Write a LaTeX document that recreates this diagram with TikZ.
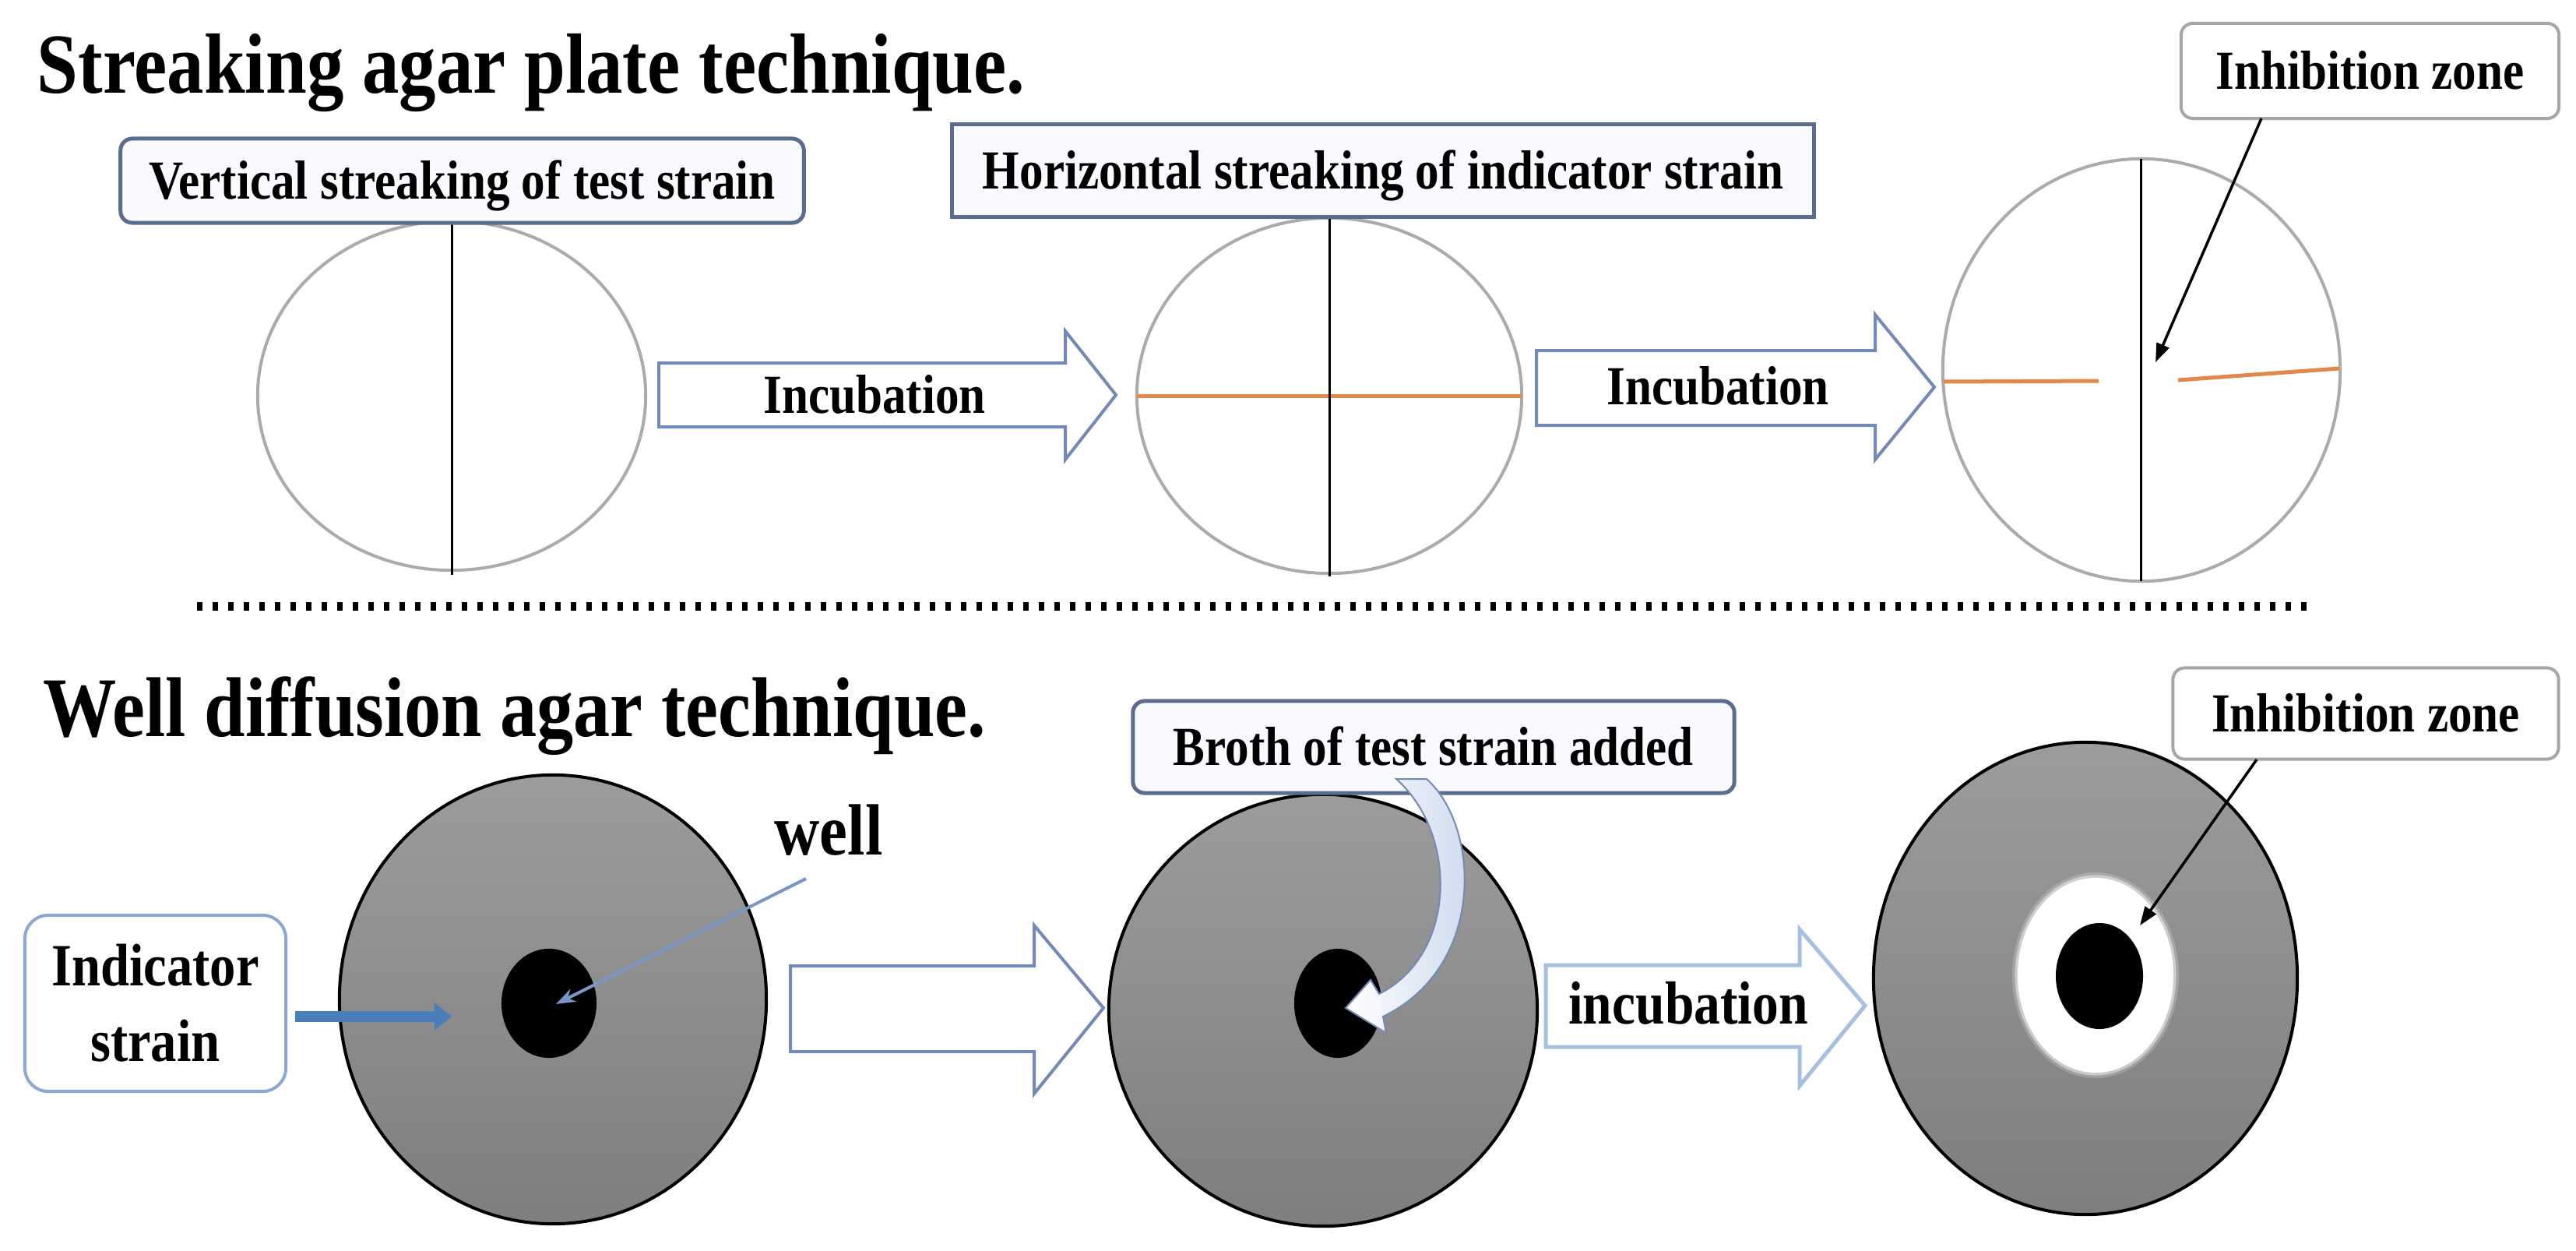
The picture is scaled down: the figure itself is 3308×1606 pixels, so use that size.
\documentclass[tikz,border=0pt]{standalone}
\usepackage{fontspec}
\setmainfont{Liberation Serif}[FakeStretch=0.865]
\usetikzlibrary{arrows.meta}
\definecolor{boxblue}{HTML}{5A6D8F}
\definecolor{boxfill}{HTML}{F8FAFE}
\definecolor{arrblue}{HTML}{7389B8}
\definecolor{arrlight}{HTML}{A5C0E0}
\definecolor{platerim}{HTML}{ABABAB}
\definecolor{streak}{HTML}{E3884D}
\definecolor{platetop}{HTML}{9C9C9C}
\definecolor{platebot}{HTML}{7E7E7E}
\definecolor{indblue}{HTML}{4A7EBB}
\definecolor{pointblue}{HTML}{7A96C4}
\definecolor{zonegray}{HTML}{A6A6A6}
\definecolor{indbox}{HTML}{8AA8D4}
\definecolor{brothfill}{HTML}{C9D6EC}
\begin{document}
\begin{tikzpicture}[x=0.01cm,y=-0.01cm,
  title/.style={font=\bfseries\fontsize{31.2pt}{36pt}\selectfont, inner sep=0pt, anchor=base west},
  lbl/.style={font=\bfseries\fontsize{20.1pt}{24pt}\selectfont, inner sep=0pt},
  labelbox/.style={lbl, draw=boxblue, line width=0.05cm, fill=boxfill, rounded corners=0.15cm,
                   text height=0.465cm, text depth=0pt, inner sep=0pt},
  zonebox/.style={labelbox, draw=zonegray, line width=0.04cm, fill=white},
  emptyplate/.style={draw=platerim, line width=0.04cm},
  agar/.style={draw=black, line width=0.04cm, top color=platetop, bottom color=platebot},
  blockarrow/.style={draw=arrblue, line width=0.04cm, fill=white, line join=miter},
  streakline/.style={draw=streak, line width=0.05cm},
  pointer/.style={draw=black, line width=0.035cm, -{Triangle[length=0.24cm, width=0.17cm]}},
  wellwell/.style={fill=black}
]
\useasboundingbox (0,0) rectangle (3308,1606);
\fill[white] (0,0) rectangle (3308,1606);

% ---------- titles
\node[title] (t1) at (47,120) {Streaking agar plate technique.};
\node[title, font=\bfseries\fontsize{31.0pt}{36pt}\selectfont] (t2) at (55,945) {Well diffusion agar technique.};

% ---------- top row plates
\draw[emptyplate] (580,508) ellipse [x radius=2.49cm, y radius=2.24cm];
\coordinate (p1top) at (580,286); \coordinate (p1bot) at (580,738);
\draw[line width=0.03cm] (p1top) -- (p1bot);

\draw[emptyplate] (1707,508) ellipse [x radius=2.47cm, y radius=2.28cm];
\coordinate (p2l) at (1460,508); \coordinate (p2r) at (1954,508);
\draw[streakline] (p2l) -- (p2r);
\coordinate (p2top) at (1707,278); \coordinate (p2bot) at (1707,740);
\draw[line width=0.03cm] (p2top) -- (p2bot);

\draw[emptyplate] (2750,475) ellipse [x radius=2.55cm, y radius=2.71cm];
\coordinate (p3top) at (2749,204); \coordinate (p3bot) at (2749,746);
\draw[line width=0.03cm] (p3top) -- (p3bot);
\coordinate (s1a) at (2496,490); \coordinate (s1b) at (2695,489);
\coordinate (s2a) at (2797,488); \coordinate (s2b) at (3004,473);
\draw[streakline] (s1a) -- (s1b);
\draw[streakline] (s2a) -- (s2b);

% ---------- top row block arrows
\draw[blockarrow] (846,466) -- (1368,466) -- (1368,425) -- (1433,507) -- (1368,590) -- (1368,548) -- (846,548) -- cycle;
\node[lbl, anchor=base] (inc1) at (1123,530) {Incubation};
\draw[blockarrow] (1973,450) -- (2408,450) -- (2408,404) -- (2484,497) -- (2408,590) -- (2408,546) -- (1973,546) -- cycle;
\node[lbl, anchor=base] (inc2) at (2206,519) {Incubation};

% ---------- top row label boxes
\node[labelbox, minimum width=8.77cm, minimum height=1.08cm] (vbox) at (593.5,232) {Vertical streaking of test strain};
\node[labelbox, rounded corners=0pt, minimum width=11.06cm, minimum height=1.18cm] (hbox) at (1776,219) {Horizontal streaking of indicator strain};
\node[zonebox, minimum width=4.85cm, minimum height=1.22cm] (zone1) at (3043.5,91) {Inhibition zone};
\coordinate (zone1from) at (2904,152);
\coordinate (zone1tip) at (2768,465);
\draw[pointer] (zone1from) -- (zone1tip);

% ---------- separator
\coordinate (sepL) at (253,778); \coordinate (sepR) at (2964,778);
\draw[line width=0.11cm, dash pattern=on 0.07cm off 0.13cm] (sepL) -- (sepR);

% ---------- bottom row: plate 1
\draw[agar] (710,1283) ellipse [x radius=2.74cm, y radius=2.88cm];
\fill[wellwell] (705,1288) ellipse [x radius=0.61cm, y radius=0.70cm];
\node[font=\bfseries\fontsize{26.5pt}{30pt}\selectfont, inner sep=0pt, anchor=base] (welllbl) at (1064,1097) {well};
\coordinate (wellfrom) at (1035,1128); \coordinate (wellto) at (714,1289);
\draw[draw=pointblue, line width=0.04cm, -{Stealth[length=0.25cm,width=0.18cm]}] (wellfrom) -- (wellto);

\node[draw=indbox, line width=0.04cm, rounded corners=0.3cm, fill=white,
      minimum width=3.35cm, minimum height=2.26cm, align=center, inner sep=0pt,
      font=\bfseries\fontsize{21.9pt}{27.6pt}\selectfont] (ind) at (199.5,1288) {Indicator\\strain};
\coordinate (indto) at (580,1305);
\draw[indblue, line width=0.14cm, -{Triangle[length=0.22cm,width=0.34cm]}] ([xshift=0.1cm]ind.east |- indto) -- (indto);

% block arrow (empty)
\draw[blockarrow] (1015,1240) -- (1328,1240) -- (1328,1188) -- (1417,1294) -- (1328,1404) -- (1328,1350) -- (1015,1350) -- cycle;

% ---------- bottom row: plate 2
\draw[agar] (1699,1297) ellipse [x radius=2.75cm, y radius=2.77cm];
\fill[wellwell] (1718,1288) ellipse [x radius=0.56cm, y radius=0.70cm];
\node[labelbox, minimum width=7.72cm, minimum height=1.18cm] (broth) at (1841,959) {Broth of test strain added};
\shade[left color=white, right color=brothfill, draw=arrblue, line width=0.02cm]
  (1832,1000) .. controls (1900,1060) and (1910,1240) .. (1776,1305)
  -- (1780,1326) -- (1728,1294) -- (1760,1258) -- (1771,1276)
  .. controls (1872,1225) and (1872,1070) .. (1793,1000) -- cycle;

\draw[blockarrow, draw=arrlight, line width=0.05cm] (1985,1239) -- (2311,1239) -- (2311,1193) -- (2395,1291) -- (2311,1394) -- (2311,1344) -- (1985,1344) -- cycle;
\node[font=\bfseries\fontsize{22.2pt}{26pt}\selectfont, inner sep=0pt, anchor=base] (inc3) at (2168,1314) {incubation};

% ---------- bottom row: plate 3
\draw[agar] (2678,1256) ellipse [x radius=2.72cm, y radius=3.03cm];
\fill[white, opacity=0.2] (2691,1252) ellipse [x radius=1.07cm, y radius=1.32cm];
\fill[white, opacity=0.45] (2691,1252) ellipse [x radius=1.035cm, y radius=1.285cm];
\fill[white] (2691,1252) ellipse [x radius=1.0cm, y radius=1.25cm];
\fill[wellwell] (2696,1253) ellipse [x radius=0.56cm, y radius=0.68cm];
\node[zonebox, minimum width=4.95cm, minimum height=1.17cm] (zone2) at (3038,916) {Inhibition zone};
\coordinate (zone2from) at (2898,975);
\coordinate (zone2tip) at (2748,1188);
\draw[pointer] (zone2from) -- (zone2tip);
\end{tikzpicture}
\end{document}
